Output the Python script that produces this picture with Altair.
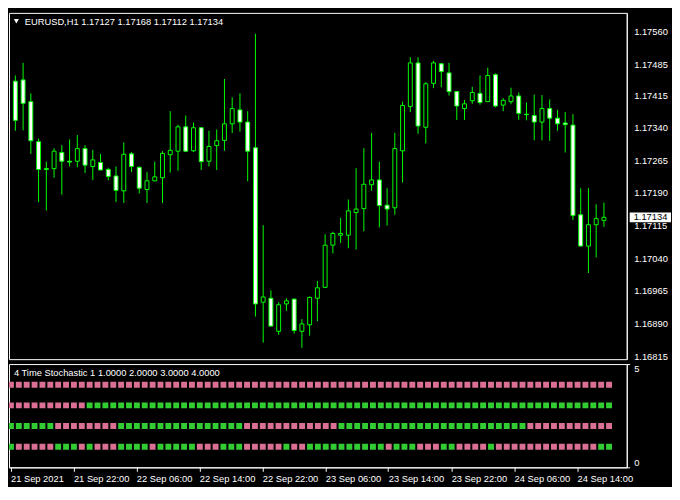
import altair as alt
import pandas as pd

# ---------------- data ----------------
opens = [1.17447, 1.17450, 1.17400, 1.17308, 1.17246, 1.17246, 1.17283, 1.17263, 1.17263, 1.17292,
         1.17251, 1.17260, 1.17244, 1.17229, 1.17195, 1.17280, 1.17249, 1.17198, 1.17218, 1.17225,
         1.17278, 1.17286, 1.17342, 1.17287, 1.17340, 1.17263, 1.17299, 1.17311, 1.17349, 1.17381,
         1.17353, 1.17294, 1.16939, 1.16948, 1.16872, 1.16935, 1.16946, 1.16872, 1.16887, 1.16948,
         1.16973, 1.17070, 1.17093, 1.17093, 1.17145, 1.17154, 1.17209, 1.17220, 1.17162, 1.17156,
         1.17287, 1.17389, 1.17489, 1.17341, 1.17442, 1.17487, 1.17466, 1.17423, 1.17384, 1.17402,
         1.17419, 1.17400, 1.17462, 1.17392, 1.17400, 1.17413, 1.17371, 1.17368, 1.17353, 1.17384,
         1.17362, 1.17351, 1.17346, 1.17140, 1.17068, 1.17117, 1.17127]
highs = [1.17460, 1.17489, 1.17419, 1.17315, 1.17262, 1.17293, 1.17300, 1.17313, 1.17323, 1.17300,
         1.17289, 1.17280, 1.17248, 1.17251, 1.17306, 1.17284, 1.17251, 1.17238, 1.17262, 1.17286,
         1.17378, 1.17347, 1.17368, 1.17352, 1.17341, 1.17333, 1.17336, 1.17452, 1.17410, 1.17419,
         1.17378, 1.17556, 1.17116, 1.16966, 1.16939, 1.16948, 1.16947, 1.16900, 1.16952, 1.16988,
         1.17095, 1.17101, 1.17133, 1.17175, 1.17247, 1.17293, 1.17328, 1.17262, 1.17201, 1.17328,
         1.17400, 1.17502, 1.17502, 1.17445, 1.17494, 1.17489, 1.17489, 1.17424, 1.17404, 1.17434,
         1.17460, 1.17478, 1.17465, 1.17408, 1.17432, 1.17421, 1.17398, 1.17416, 1.17415, 1.17405,
         1.17381, 1.17376, 1.17371, 1.17201, 1.17201, 1.17164, 1.17168]
lows = [1.17333, 1.17334, 1.17280, 1.17169, 1.17150, 1.17225, 1.17186, 1.17251, 1.17249, 1.17236,
        1.17220, 1.17242, 1.17219, 1.17169, 1.17167, 1.17238, 1.17189, 1.17167, 1.17217, 1.17167,
        1.17237, 1.17241, 1.17284, 1.17284, 1.17243, 1.17251, 1.17243, 1.17287, 1.17328, 1.17331,
        1.17217, 1.16906, 1.16846, 1.16883, 1.16864, 1.16919, 1.16867, 1.16834, 1.16862, 1.16895,
        1.16972, 1.17051, 1.17075, 1.17063, 1.17060, 1.17102, 1.17195, 1.17111, 1.17115, 1.17140,
        1.17214, 1.17376, 1.17326, 1.17304, 1.17431, 1.17433, 1.17414, 1.17358, 1.17358, 1.17395,
        1.17393, 1.17399, 1.17387, 1.17378, 1.17394, 1.17358, 1.17357, 1.17311, 1.17311, 1.17310,
        1.17333, 1.17283, 1.17128, 1.17067, 1.17006, 1.17042, 1.17112]
closes = [1.17357, 1.17396, 1.17310, 1.17244, 1.17244, 1.17286, 1.17263, 1.17261, 1.17292, 1.17254,
          1.17266, 1.17243, 1.17228, 1.17196, 1.17279, 1.17251, 1.17201, 1.17218, 1.17227, 1.17281,
          1.17288, 1.17342, 1.17286, 1.17340, 1.17262, 1.17297, 1.17310, 1.17349, 1.17384, 1.17353,
          1.17286, 1.16935, 1.16951, 1.16884, 1.16933, 1.16942, 1.16874, 1.16889, 1.16950, 1.16972,
          1.17070, 1.17097, 1.17097, 1.17149, 1.17153, 1.17210, 1.17220, 1.17161, 1.17153, 1.17292,
          1.17391, 1.17489, 1.17344, 1.17441, 1.17489, 1.17469, 1.17423, 1.17390, 1.17395, 1.17421,
          1.17398, 1.17460, 1.17390, 1.17403, 1.17413, 1.17373, 1.17370, 1.17353, 1.17384, 1.17362,
          1.17349, 1.17347, 1.17138, 1.17068, 1.17117, 1.17131, 1.17134]

time_labels = ["21 Sep 2021", "21 Sep 22:00", "22 Sep 06:00", "22 Sep 14:00", "22 Sep 22:00",
               "23 Sep 06:00", "23 Sep 14:00", "23 Sep 22:00", "24 Sep 06:00", "24 Sep 14:00"]
time_label_bars = [0, 8, 16, 24, 32, 40, 48, 56, 64, 72]
price_ticks = [1.17560, 1.17485, 1.17415, 1.17340, 1.17265, 1.17190,
               1.17115, 1.17040, 1.16965, 1.16890, 1.16815]
price_range = [1.16808, 1.17604]
last_price = 1.17134
symbol_title = "EURUSD,H1  1.17127 1.17168 1.17112 1.17134"
indicator_title = "4 Time Stochastic 1 1.0000 2.0000 3.0000 4.0000"
indicator_ticks = [0, 5]

# indicator rows (G = up / green, P = down / pink), groups of 10 bars
row_levels = [4, 3, 2, 1]
row_states = [
    "PPPPPPPPPP PPPPPPPPPP PPPPPPPPPP PPPPPPPPPP PPPPPPPPPP PPPPPPPPPP PPPPPPPPPP PPPPPPP",
    "PPPPPPPPPP GGGGGGGGGG GGGGGGGGGG GGGGGGGGGG GGGGGGGGGG GGGGGGGGGG GGGGGGGGGG GGGGGGG",
    "GGGGGGPPPP PPPPGGGGGG GGGGGGGGGG PPPPPPPPPP PPGGGGGGGG GGGGGGGGGG GGGGGGPPPP PPPPPPP",
    "GPPPPPGGGP GPPPGGGGPG GGGGPPPGGG PPPPPGPPGG GGGGGGGGPG GGPPPGGPPP PGPPPPPPPP PPPPPGG",
]

# ---------------- layout / style ----------------
W, H1, H2 = 628, 352, 105
X_DOMAIN = [-0.1875, 78.3125]
FONT = "Liberation Sans"
FS = 9.5
LIME = "#00FF00"

df = pd.DataFrame({"i": list(range(len(opens))), "open": opens, "high": highs,
                   "low": lows, "close": closes})

xs = alt.Scale(domain=X_DOMAIN, nice=False, zero=False)
ys = alt.Scale(domain=price_range, nice=False, zero=False)
price_axis = alt.Axis(orient="right", values=price_ticks, format=".5f", labelColor="white",
                      labelFont=FONT, labelFontSize=FS, ticks=False, grid=False, domain=True,
                      domainColor="white", labelPadding=7, title=None)

X = alt.X("i:Q", scale=xs, axis=None, title=None)

wicks = alt.Chart(df).mark_rule(color=LIME, strokeWidth=1, clip=True).encode(
    x=X, y=alt.Y("high:Q", scale=ys, axis=price_axis, title=None), y2="low:Q")

bodies = alt.Chart(df).mark_bar(size=4, stroke=LIME, strokeWidth=1, clip=True).encode(
    x=X, y=alt.Y("open:Q", scale=ys, axis=price_axis, title=None), y2="close:Q",
    fill=alt.condition("datum.close < datum.open", alt.value("white"), alt.value("black")))

last_df = pd.DataFrame({"price": [last_price], "label": [f"{last_price:.5f}"]})
price_box = alt.Chart(last_df).mark_rect(fill="white", yOffset=-5, y2Offset=5).encode(
    x=alt.value(W + 3), x2=alt.value(W + 45),
    y=alt.Y("price:Q", scale=ys, axis=price_axis, title=None), y2="price:Q")
price_text = alt.Chart(last_df).mark_text(align="left", baseline="middle", color="black",
                                          font=FONT, fontSize=FS).encode(
    x=alt.value(W + 7), y=alt.Y("price:Q", scale=ys, axis=price_axis, title=None), text="label:N")

title_df = pd.DataFrame({"t": [symbol_title]})
title_text = alt.Chart(title_df).mark_text(align="left", baseline="middle", color="white",
                                           font=FONT, fontSize=FS).encode(
    x=alt.value(16), y=alt.value(9), text="t:N")
tri = alt.Chart(title_df).mark_point(shape="triangle-down", filled=True, color="white",
                                     size=26, opacity=1, strokeWidth=0).encode(
    x=alt.value(7.5), y=alt.value(8.5))

main = alt.layer(wicks, bodies, price_box, price_text, tri, title_text).properties(
    width=W, height=H1)

# indicator panel
rows = []
for lvl, s in zip(row_levels, row_states):
    for i, ch in enumerate(s.replace(" ", "")):
        rows.append({"i": i, "v": lvl, "c": "up" if ch == "G" else "down"})
ind_df = pd.DataFrame(rows)

label_expr = "[" + ",".join(f"'{t}'" for t in time_labels) + "][round(datum.value/8)]"
time_axis = alt.Axis(values=time_label_bars, labelExpr=label_expr, labelAlign="left",
                     labelColor="white", labelFont=FONT, labelFontSize=FS, labelPadding=2,
                     labelOverlap=False, labelFlush=False, tickColor="white", tickSize=4,
                     domainColor="white", grid=False, title=None)

squares = alt.Chart(ind_df).mark_square(size=36, opacity=1, xOffset=0.5, clip=True).encode(
    x=alt.X("i:Q", scale=xs, axis=time_axis, title=None),
    y=alt.Y("v:Q", scale=alt.Scale(domain=[0, 5], nice=False, zero=False),
            axis=alt.Axis(orient="right", values=indicator_ticks, labelFlush=True,
                          labelColor="white", labelFont=FONT, labelFontSize=FS,
                          ticks=True, tickSize=3, tickColor="white", domainColor="white",
                          labelPadding=4, grid=False, title=None)),
    color=alt.Color("c:N", scale=alt.Scale(domain=["up", "down"], range=["#32CD32", "#DB7093"]),
                    legend=None))

ind_title_df = pd.DataFrame({"t": [indicator_title]})
ind_text = alt.Chart(ind_title_df).mark_text(align="left", baseline="middle", color="white",
                                             font=FONT, fontSize=FS).encode(
    x=alt.value(5), y=alt.value(9), text="t:N")

indicator = alt.layer(squares, ind_text).properties(width=W, height=H2)

chart = alt.vconcat(main, indicator, spacing=2).properties(
    padding={"left": 0, "top": 0, "right": 0, "bottom": 0},
    background="black",
).configure_view(stroke="white", strokeWidth=1)

chart.save("out.html", embed_options={"renderer": "svg", "actions": False})
